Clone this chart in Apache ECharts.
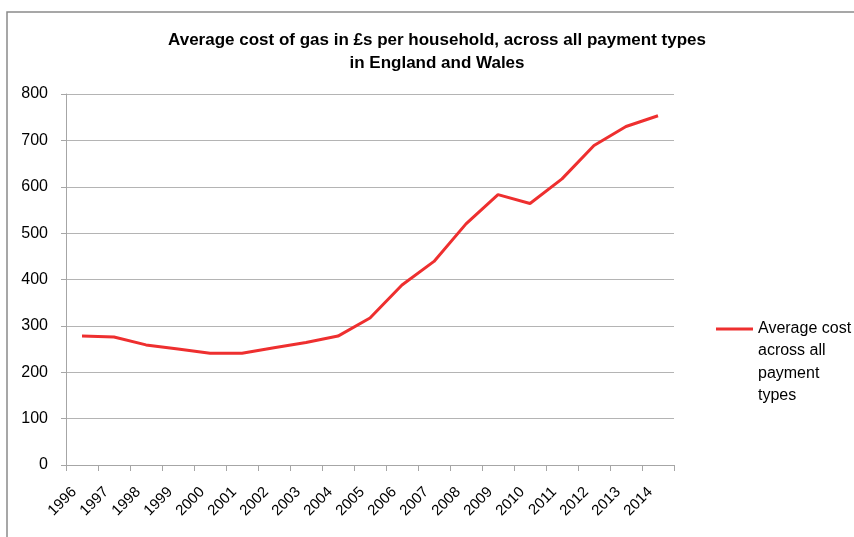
<!DOCTYPE html>
<html>
<head>
<meta charset="utf-8">
<script src="https://cdn.jsdelivr.net/npm/echarts@6/dist/echarts.min.js"></script>
<style>
html,body{margin:0;padding:0;background:#fff;}
#c{width:854px;height:537px;}
</style>
</head>
<body>
<div id="c"></div>
<script>
const titleLines = ["Average cost of gas in £s per household, across all payment types", "in England and Wales"];
const years = ["1996","1997","1998","1999","2000","2001","2002","2003","2004","2005","2006","2007","2008","2009","2010","2011","2012","2013","2014"];
const avgCost = [278, 276, 259, 250, 241, 241, 253, 264, 278, 317, 388, 439, 520, 583, 564, 617, 689, 730, 753];
const seriesName = "Average cost across all payment types";
const legendLines = ["Average cost", "across all", "payment", "types"];
const yTicks = [0, 100, 200, 300, 400, 500, 600, 700, 800];

const font = '"Liberation Sans", Arial, sans-serif';
const chart = echarts.init(document.getElementById('c'), null, {renderer: 'canvas'});
chart.setOption({
  animation: false,
  backgroundColor: '#fff',
  title: {
    text: titleLines.join('\n'),
    left: 437, top: 29, textAlign: 'center', padding: 0,
    textStyle: {fontFamily: font, fontWeight: 'bold', fontSize: 17, color: '#000', lineHeight: 23}
  },
  graphic: [{
    type: 'rect', shape: {x: 7, y: 12, width: 900, height: 600},
    style: {fill: 'none', stroke: '#8a8a8a', lineWidth: 1.5}, silent: true
  }],
  legend: {
    left: 716, top: 317, orient: 'vertical', padding: 0,
    icon: 'path://M0,0h37v3h-37z M0,69h0.001v0.001h-0.001z',
    itemWidth: 37, itemHeight: 69,
    formatter: () => legendLines.join('\n'),
    textStyle: {fontFamily: font, fontSize: 16, color: '#000', lineHeight: 22.5},
    data: [seriesName]
  },
  grid: {left: 66, right: 180, top: 94, bottom: 72, containLabel: false},
  xAxis: {
    type: 'category', data: years, boundaryGap: true,
    axisLine: {lineStyle: {color: '#a6a6a6', width: 1}},
    axisTick: {show: true, length: 6, lineStyle: {color: '#a6a6a6'}},
    axisLabel: {rotate: 45, interval: 0, fontFamily: font, fontSize: 15, color: '#000', margin: 17,
      padding: [0, 11, 0, 0]}
  },
  yAxis: {
    type: 'value', min: 0, max: 800, interval: 100,
    axisLine: {show: true, lineStyle: {color: '#a6a6a6'}},
    axisTick: {show: true, length: 5, lineStyle: {color: '#a6a6a6'}},
    splitLine: {lineStyle: {color: '#b4b4b4', width: 1}},
    axisLabel: {fontFamily: font, fontSize: 16, color: '#000', margin: 18,
      formatter: v => yTicks.includes(v) ? String(v) : ''}
  },
  series: [{
    name: seriesName, type: 'line', data: avgCost,
    showSymbol: false, symbol: 'none',
    lineStyle: {color: '#ee2f2f', width: 3},
    itemStyle: {color: '#ee2f2f'}
  }]
});
</script>
</body>
</html>
